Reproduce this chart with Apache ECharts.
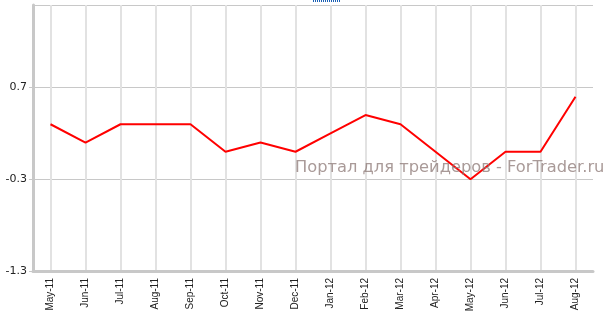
<!DOCTYPE html>
<html><head><meta charset="utf-8">
<script src="https://cdn.jsdelivr.net/npm/echarts@6/dist/echarts.min.js"></script>
<style>html,body{margin:0;padding:0;background:#fff}#c{width:611px;height:318px}</style>
</head><body><div id="c"></div>
<script>
const categories = ['May-11','Jun-11','Jul-11','Aug-11','Sep-11','Oct-11','Nov-11','Dec-11','Jan-12','Feb-12','Mar-12','Apr-12','May-12','Jun-12','Jul-12','Aug-12'];
const values = [0.3, 0.1, 0.3, 0.3, 0.3, 0.0, 0.1, 0.0, 0.2, 0.4, 0.3, 0.0, -0.3, 0.0, 0.0, 0.6];
const watermark = 'Портал для трейдеров - ForTrader.ru';

const chart = echarts.init(document.getElementById('c'));
chart.setOption({
  animation: false,
  grid: {left: 33, right: 18, top: 5, bottom: 47},
  xAxis: {
    type: 'category', data: categories, boundaryGap: true,
    axisLine: {onZero: false, lineStyle: {color: '#c8c8c8', width: 3}},
    axisTick: {alignWithLabel: true, length: 4, lineStyle: {color: '#d8d8d8', width: 2}},
    splitLine: {show: true, alignWithLabel: true, lineStyle: {color: '#e2e2e2', width: 2}},
    axisLabel: {rotate: 90, interval: 0, color: '#222', fontFamily: 'Liberation Sans', fontSize: 10, margin: 7}
  },
  yAxis: {
    type: 'value', min: -1.3, max: 1.6, interval: 1,
    axisLine: {show: true, lineStyle: {color: '#c8c8c8', width: 3}},
    axisTick: {show: true, length: 4, lineStyle: {color: '#c8c8c8'}},
    splitLine: {lineStyle: {color: '#c8c8c8', width: 1}},
    axisLabel: {showMaxLabel: false, color: '#222', fontFamily: 'DejaVu Sans', fontSize: 11, margin: 6,
      formatter: v => v.toFixed(1)}
  },
  series: [{
    type: 'line', data: values, symbol: 'none',
    lineStyle: {color: '#ff0000', width: 2}, z: 3
  }],
  graphic: [
    {type: 'text', left: 295, top: 160, z: 10, style: {text: watermark, fontFamily: 'DejaVu Sans', fontSize: 16.3, fill: 'rgba(140,120,118,0.75)'}},
    {type: 'line', shape: {x1: 313, y1: 1, x2: 340, y2: 1}, style: {stroke: '#1a5fb4', lineWidth: 2, lineDash: [1, 1]}}
  ]
});
</script></body></html>
